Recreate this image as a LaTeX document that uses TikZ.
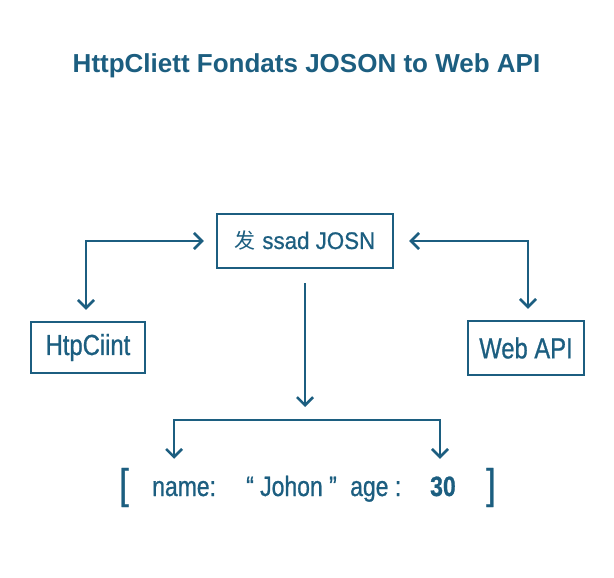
\documentclass[tikz,border=0pt]{standalone}
\usepackage{fontspec}
\setmainfont{Liberation Sans}[FakeStretch=0.82, FakeBold=0.8]
\newfontfamily\wideface{Liberation Sans}[FakeStretch=0.93, FakeBold=0.8]
\newfontfamily\titleface{Liberation Sans}
\newfontfamily\cjk{Noto Sans CJK SC}
\usetikzlibrary{arrows.meta}
\definecolor{apiblue}{RGB}{28,94,128}

\begin{document}
\begin{tikzpicture}[x=1pt, y=-1pt, every node/.style={text=apiblue, inner sep=0pt},
  box/.style={draw=apiblue, line width=2.4pt, rectangle, font=\fontsize{29}{34}\selectfont},
  link/.style={draw=apiblue, line width=2.6pt, arrows={-Straight Barb[length=8pt,width=16pt]}},
  json/.style={anchor=base west, text height=20pt, text depth=6pt, font=\fontsize{28}{32}\selectfont}]
  \useasboundingbox (0,0) rectangle (614,578);
  \node[anchor=base, font=\titleface\bfseries\fontsize{26}{30}\selectfont] (title) at (306.5,73) {HttpCliett Fondats JOSON to Web API};
  \node[box, minimum width=176pt, minimum height=54pt] (send) at (305,241) {{\cjk\fontsize{21}{24}\selectfont 发} {\wideface\fontsize{24}{28}\selectfont ssad JOSN}};
  \node[box, minimum width=114pt, minimum height=51pt] (client) at (88,347.5) {HtpCiint};
  \node[box, minimum width=116pt, minimum height=54pt] (webapi) at (526,348) {Web API};
  \coordinate (fork) at (305,420);
  \node[font=\fontsize{42}{46}\selectfont] (lbr) at (124,487.5) {[};
  \node[json] (nm) at (152,496) {name:};
  \node[json] (jh) at (246,496) {“ Johon ”};
  \node[json] (ag) at (350,496) {age :};
  \node[json, font=\bfseries\fontsize{28}{32}\selectfont] (num) at (430,496) {30};
  \node[font=\fontsize{42}{46}\selectfont] (rbr) at (491,487.5) {]};
  \draw[link, {Straight Barb[length=8pt,width=16pt]}-{Straight Barb[length=8pt,width=16pt]}, shorten <=11pt, shorten >=12pt] ([xshift=-2pt]client.north) |- (send.west);
  \draw[link, {Straight Barb[length=8pt,width=16pt]}-{Straight Barb[length=8pt,width=16pt]}, shorten <=11pt, shorten >=15pt] ([xshift=2pt]webapi.north) |- (send.east);
  \draw[link, shorten <=14pt, shorten >=13pt] (send.south) -- (fork);
  \draw[link, {Straight Barb[length=8pt,width=16pt]}-{Straight Barb[length=8pt,width=16pt]}, shorten <=17pt, shorten >=17pt] ([xshift=-10pt]nm.north) |- (fork) -| ([xshift=-3pt]num.north);
\end{tikzpicture}
\end{document}
